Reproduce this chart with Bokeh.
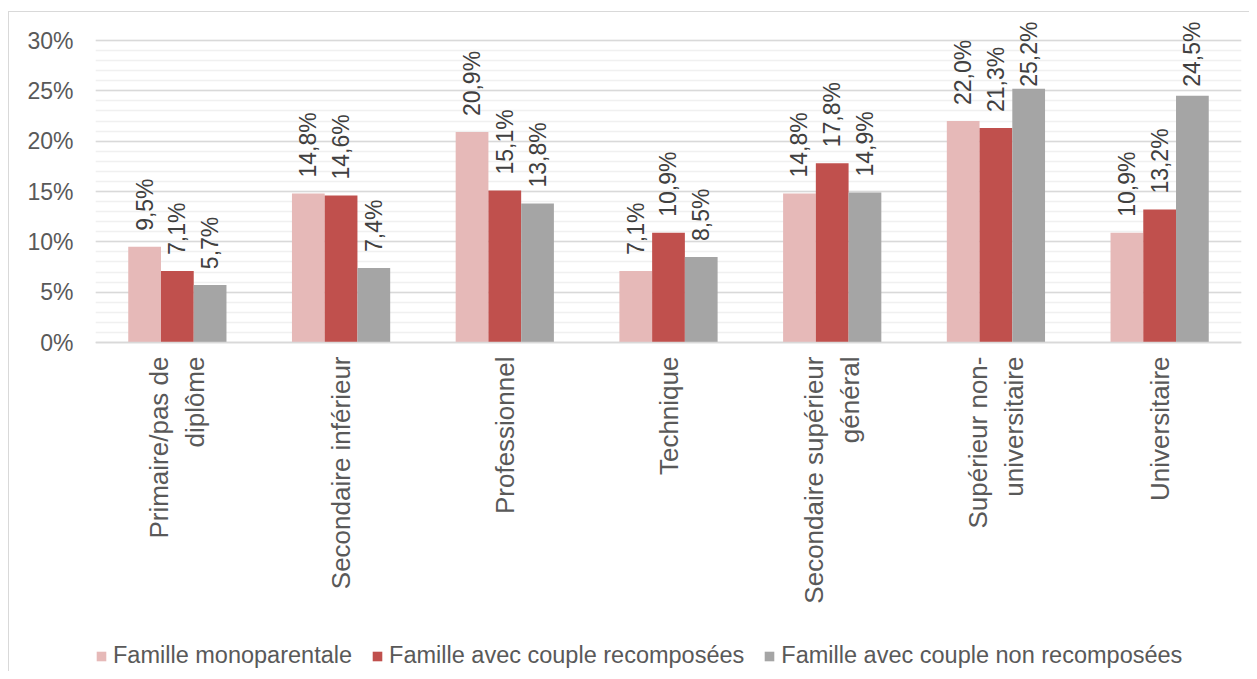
from math import pi
from bokeh.plotting import figure
from bokeh.models import (ColumnDataSource, FixedTicker, PrintfTickFormatter, Legend,
                          LegendItem, Range1d, FactorRange, LabelSet)
from bokeh.transform import dodge
from bokeh.core.properties import value
from bokeh.embed import file_html
from bokeh.resources import INLINE

categories = ["Primaire/pas de\ndiplôme", "Secondaire inférieur", "Professionnel", "Technique",
              "Secondaire supérieur\ngénéral", "Supérieur non-\nuniversitaire", "Universitaire"]
series_names = ["Famille monoparentale", "Famille avec couple recomposées",
                "Famille avec couple non recomposées"]
monoparentale = [9.5, 14.8, 20.9, 7.1, 14.8, 22.0, 10.9]
recomposees = [7.1, 14.6, 15.1, 10.9, 17.8, 21.3, 13.2]
non_recomposees = [5.7, 7.4, 13.8, 8.5, 14.9, 25.2, 24.5]
y_ticks = [0, 5, 10, 15, 20, 25, 30]
y_minor_ticks = list(range(0, 31))
colors = ["#E6B9B8", "#C0504D", "#A5A5A5"]
offsets = [-0.2, 0.0, 0.2]

FONT = "Liberation Sans"
LABEL_PX = 23

# layout (pixels): canvas height, position of the 30% and 0% lines inside it
H = 660
TOP_PX = 28
ZERO_PX = 330
px_per_unit = (ZERO_PX - TOP_PX) / 30.0
y_max = 30 + TOP_PX / px_per_unit
y_min = -(H - ZERO_PX) / px_per_unit

# approximate advance widths (em) to keep data labels inside the chart area
_adv = {",": 0.278, "%": 0.889}
def text_len(s):
    return sum(_adv.get(c, 0.556) for c in s) * LABEL_PX

def label_offset(v, s):
    bar_top = ZERO_PX - v * px_per_unit
    return max(1.0, min(16.0, bar_top - 9 - text_len(s)))

p = figure(x_range=FactorRange(*categories), y_range=Range1d(y_min, y_max),
           width=1241, height=H, output_backend="svg", toolbar_location=None,
           min_border_left=86, min_border_right=9, min_border_top=0, min_border_bottom=0,
           margin=(11, 0, 0, 8))
p.styles = {"border-left": "1px solid #d9d9d9", "border-top": "1px solid #d9d9d9"}
p.outline_line_color = None
p.background_fill_color = "white"

items = []
for name, vals, col, off in zip(series_names, [monoparentale, recomposees, non_recomposees], colors, offsets):
    texts = [f"{v:.1f}".replace(".", ",") + "%" for v in vals]
    src = ColumnDataSource(dict(x=categories, top=vals, label=texts,
                                yoff=[label_offset(v, s) for v, s in zip(vals, texts)]))
    r = p.vbar(x=dodge("x", off, range=p.x_range), top="top", bottom=0, width=0.2, source=src,
               fill_color=col, line_color=None)
    labels = LabelSet(x=dodge("x", off, range=p.x_range), y="top", text="label", source=src,
                      angle=pi / 2, text_align="left", text_baseline="middle", y_offset="yoff",
                      x_offset=0, text_font=value(FONT), text_font_size=f"{LABEL_PX}px",
                      text_color="#404040")
    p.add_layout(labels)
    items.append(LegendItem(label=name, renderers=[r]))

# axes
p.yaxis.ticker = FixedTicker(ticks=y_ticks, minor_ticks=y_minor_ticks)
p.yaxis.formatter = PrintfTickFormatter(format="%d%%")
p.yaxis.axis_line_color = None
p.yaxis.major_tick_line_color = None
p.yaxis.minor_tick_line_color = None
p.yaxis.major_tick_out = 0
p.yaxis.minor_tick_out = 0
p.yaxis.major_label_standoff = 22
p.yaxis.major_label_text_font = FONT
p.yaxis.major_label_text_font_size = "23px"
p.yaxis.major_label_text_color = "#595959"

p.xaxis.fixed_location = 0
p.xaxis.axis_line_color = "#d9d9d9"
p.xaxis.axis_line_width = 1.5
p.xaxis.major_tick_line_color = None
p.xaxis.minor_tick_line_color = None
p.xaxis.major_tick_out = 0
p.xaxis.major_label_standoff = 14
p.xaxis.major_label_orientation = pi / 2
p.xaxis.major_label_text_font = FONT
p.xaxis.major_label_text_font_size = "26px"
p.xaxis.major_label_text_color = "#595959"

p.xgrid.grid_line_color = None
p.ygrid.grid_line_color = "#d9d9d9"
p.ygrid.grid_line_width = 1.5
p.ygrid.minor_grid_line_color = "#f0f0f0"
p.ygrid.minor_grid_line_width = 1.5

legend = Legend(items=items, orientation="horizontal", location=(0, 3),
                label_text_font=FONT, label_text_font_size="23.5px", label_text_color="#595959",
                glyph_width=12, glyph_height=12, label_standoff=6, spacing=19, label_height=26,
                padding=0, margin=0, border_line_color=None, background_fill_alpha=0)
p.add_layout(legend, "center")

open("out.html", "w").write(file_html(p, INLINE))
